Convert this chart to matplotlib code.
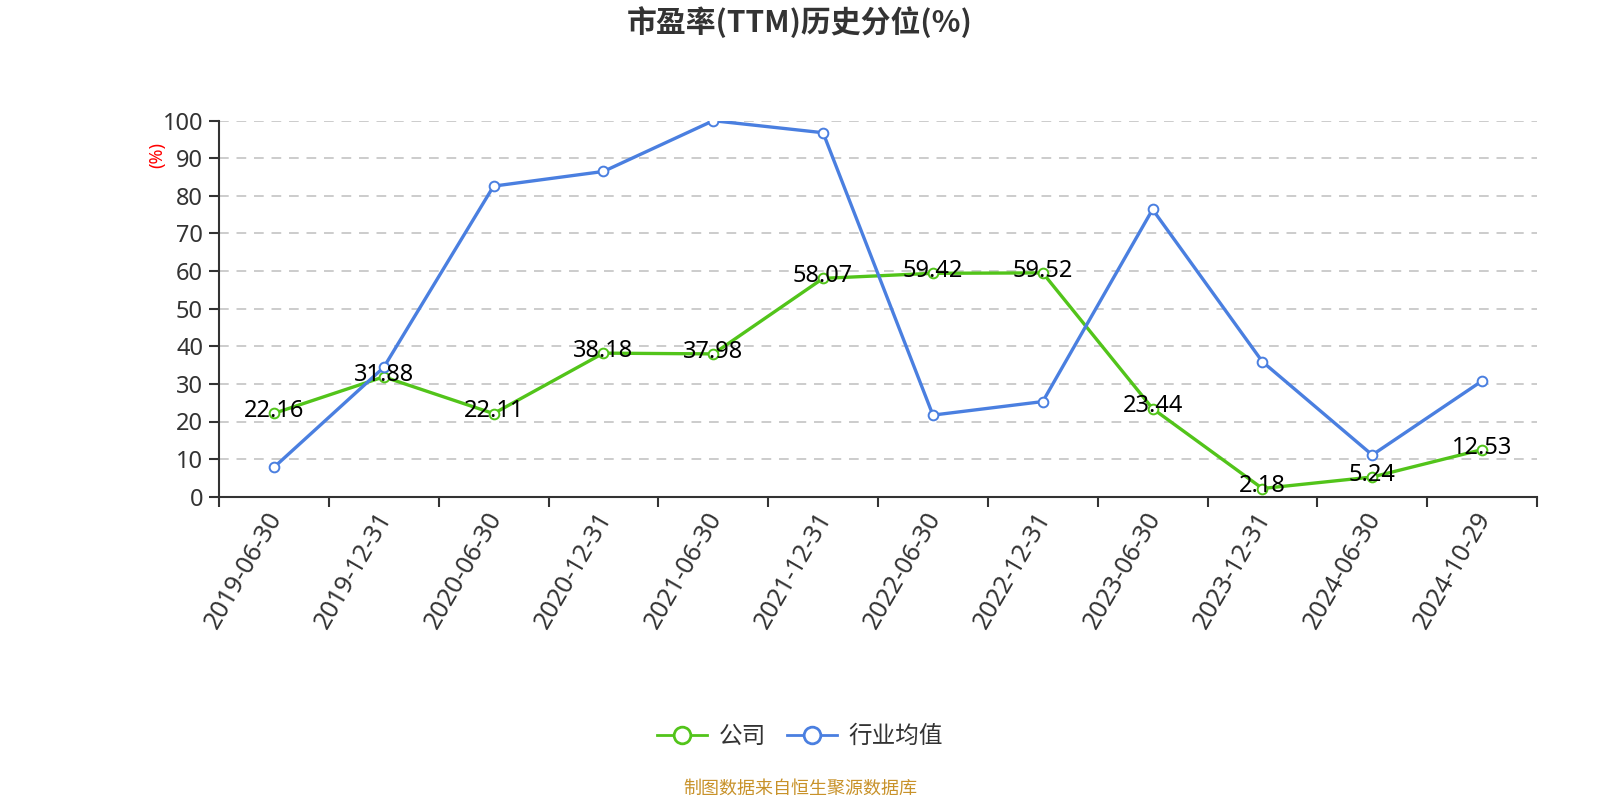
import matplotlib
matplotlib.use("Agg")
import matplotlib.pyplot as plt
from matplotlib.lines import Line2D
from matplotlib.transforms import ScaledTranslation

plt.rcParams['font.family'] = ['Noto Sans', 'Noto Sans CJK SC', 'DejaVu Sans']

dates = ["2019-06-30", "2019-12-31", "2020-06-30", "2020-12-31", "2021-06-30",
         "2021-12-31", "2022-06-30", "2022-12-31", "2023-06-30", "2023-12-31",
         "2024-06-30", "2024-10-29"]
company = [22.16, 31.88, 22.11, 38.18, 37.98, 58.07, 59.42, 59.52, 23.44, 2.18, 5.24, 12.53]
industry = [7.8, 34.4, 82.6, 86.5, 100.0, 96.8, 21.7, 25.3, 76.4, 35.9, 11.1, 30.8]

series_names = ["公司", "行业均值"]
title = "市盈率(TTM)历史分位(%)"
y_label = "(%)"
source = "制图数据来自恒生聚源数据库"
y_ticks = [0, 10, 20, 30, 40, 50, 60, 70, 80, 90, 100]

GREEN = "#52c41a"
BLUE = "#4a7fe0"
DARK = "#333333"

fig = plt.figure(figsize=(16, 8), dpi=100)
ax = fig.add_axes([219/1600, 1-496.7/800, (1537-219)/1600, (496.7-120.7)/800])

x = list(range(len(dates)))
ax.plot(x, company, color=GREEN, lw=2.4, marker='o', ms=7, mfc='white',
        mec=GREEN, mew=1.4, zorder=3)
ax.plot(x, industry, color=BLUE, lw=2.4, marker='o', ms=7, mfc='white',
        mec=BLUE, mew=1.4, zorder=4)

for xi, v in zip(x, company):
    ax.annotate(f"{v:.2f}", (xi, v), xytext=(0, 1.5), textcoords='offset points',
                ha='center', va='center', fontsize=17, color='black', zorder=6)

ax.set_xlim(-0.5, len(dates) - 0.5)
ax.set_ylim(0, 100)
ax.set_yticks(y_ticks)
ax.set_yticklabels([str(t) for t in y_ticks], fontsize=17, color=DARK)
ax.tick_params(axis='y', length=7.5, width=1.5, color=DARK, pad=4)

ax.set_xticks([i - 0.5 for i in range(len(dates) + 1)])
ax.set_xticklabels([])
ax.tick_params(axis='x', which='major', length=7, width=1.5, color=DARK, direction='out')
ax.set_xticks(x, minor=True)
ax.set_xticklabels(dates, minor=True, rotation=60, ha='right', va='top',
                   rotation_mode='anchor', fontsize=18, color=DARK)
ax.tick_params(axis='x', which='minor', length=0, pad=8)
shift = ScaledTranslation(-8/100, 0, fig.dpi_scale_trans)
for lbl in ax.get_xticklabels(minor=True):
    lbl.set_transform(lbl.get_transform() + shift)

for t in y_ticks[1:]:
    ax.axhline(t, color='#cccccc', lw=1.4, ls=(0, (5, 4)), zorder=1)

for s in ['top', 'right']:
    ax.spines[s].set_visible(False)
ax.spines['left'].set_color(DARK)
ax.spines['left'].set_linewidth(1.5)
ax.spines['bottom'].set_color(DARK)
ax.spines['bottom'].set_linewidth(1.5)

fig.text(0.5, 1-22.5/800, title, ha='center', va='center', fontsize=21.5,
         fontweight='bold', color=DARK, family=['Noto Sans CJK SC', 'DejaVu Sans'])
fig.text(157/1600, 1-155/800, y_label, ha='center', va='center', rotation=90,
         fontsize=13, color='red')

handles = [Line2D([0], [0], color=GREEN, lw=2, marker='o', ms=12, mfc='white', mec=GREEN, mew=2),
           Line2D([0], [0], color=BLUE, lw=2, marker='o', ms=12, mfc='white', mec=BLUE, mew=2)]
leg = fig.legend(handles, series_names, loc='center', bbox_to_anchor=(0.5, 1-737/800),
                 ncol=2, frameon=False, fontsize=17, handlelength=2.1,
                 handletextpad=0.5, columnspacing=0.9)
for t in leg.get_texts():
    t.set_color(DARK)

fig.text(0.5, 1-789/800, source, ha='center', va='center', fontsize=13, color='#c8922a')

fig.savefig("out.png", dpi=100)
